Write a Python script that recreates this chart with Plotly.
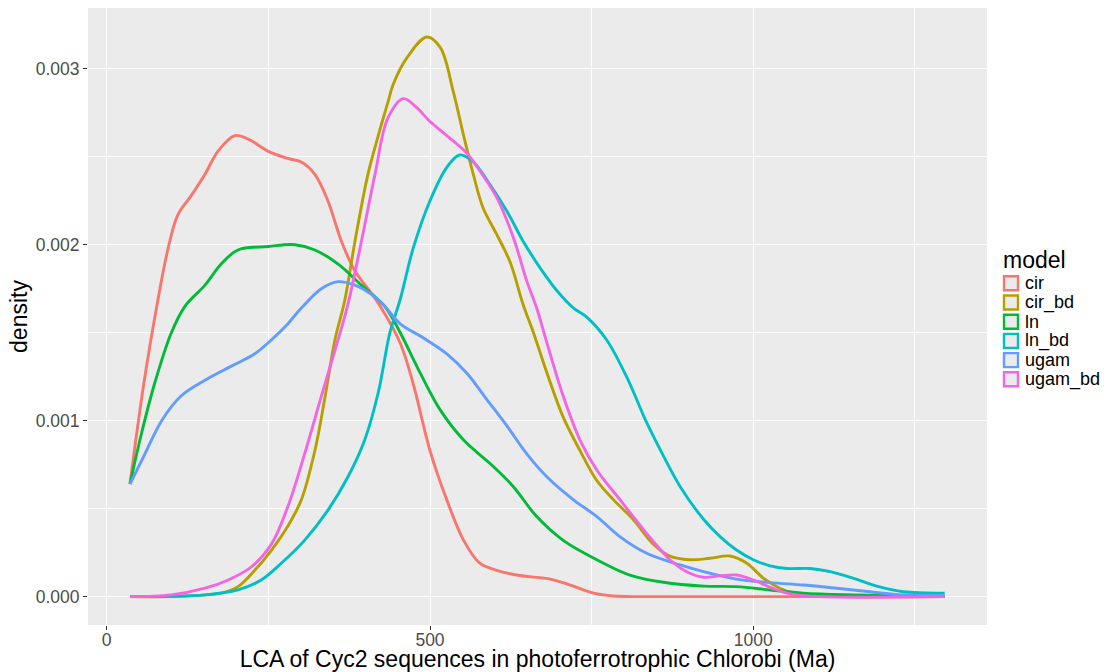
import plotly.graph_objects as go

# ---- data ----
models = ["cir", "cir_bd", "ln", "ln_bd", "ugam", "ugam_bd"]
colors = ["#F8766D", "#B79F00", "#00BA38", "#00BFC4", "#619CFF", "#F564E3"]

cir_x = [36, 57, 77, 95, 110, 131, 152, 172, 198, 219, 250, 280, 301, 322, 342, 363, 384, 404, 423,
         454, 474, 500, 526, 552, 577, 603, 639, 686, 717, 753, 783, 850, 1000, 1296]
cir_y = [0.00064, 0.0012, 0.00164, 0.00198, 0.00217, 0.00228, 0.0024, 0.00253, 0.00262, 0.0026,
         0.00253, 0.00249, 0.00247, 0.0024, 0.00225, 0.00202, 0.00185, 0.00175, 0.00165, 0.00144,
         0.00121, 0.00083, 0.00055, 0.00032, 0.00019, 0.00015, 0.00012, 0.0001, 0.000066, 0.00002,
         0.000004, 0.0, 0.0, 0.0]

cir_bd_x = [36, 126, 177, 203, 229, 255, 280, 301, 322, 337, 353, 368, 384, 404, 420, 435, 443, 464,
            495, 516, 536, 552, 567, 582, 603, 624, 644, 660, 681, 706, 732, 758, 784, 814, 845, 871,
            902, 933, 964, 990, 1016, 1041, 1067, 1103, 1296]
cir_bd_y = [0.0, 0.000004, 0.00002, 0.000057, 0.00015, 0.000265, 0.0004, 0.00055, 0.00083, 0.00112,
            0.00146, 0.00168, 0.00202, 0.0024, 0.00262, 0.00281, 0.00291, 0.00306, 0.00318, 0.00312,
            0.00287, 0.00262, 0.0024, 0.00221, 0.00206, 0.0019, 0.00166, 0.0015, 0.00127, 0.00102,
            0.00083, 0.00066, 0.00055, 0.00044, 0.0003, 0.00023, 0.00021, 0.000218, 0.000231, 0.00019,
            0.000104, 0.000048, 0.000015, 0.000003, 0.0]

ln_x = [36, 54, 74, 100, 121, 152, 177, 203, 250, 291, 322, 358, 394, 430, 454, 485, 516, 552, 598,
        629, 665, 706, 758, 809, 861, 923, 974, 1026, 1077, 1154, 1231, 1296]
ln_y = [0.00064, 0.00093, 0.00121, 0.0015, 0.00165, 0.00177, 0.00189, 0.00197, 0.00199, 0.002,
        0.00197, 0.00189, 0.00177, 0.00165, 0.0015, 0.00127, 0.00106, 0.00089, 0.00074, 0.000625,
        0.000455, 0.00032, 0.00021, 0.000123, 0.000082, 0.00006, 0.000057, 0.000038, 0.00002,
        0.00001, 0.000005, 0.000002]

ln_bd_x = [36, 152, 203, 239, 270, 306, 342, 373, 399, 420, 438, 454, 474, 500, 526, 546, 567, 593,
           619, 644, 670, 696, 722, 742, 773, 804, 835, 861, 887, 923, 949, 974, 1000, 1026, 1052,
           1088, 1119, 1155, 1191, 1232, 1296]
ln_bd_y = [0.0, 0.00001, 0.000038, 0.000095, 0.00019, 0.00032, 0.00049, 0.00068, 0.00089, 0.00116,
           0.0015, 0.00169, 0.00198, 0.00225, 0.00244, 0.00251, 0.00247, 0.00234, 0.00219, 0.00202,
           0.00187, 0.00174, 0.00164, 0.00159, 0.00146, 0.00125, 0.00099, 0.0008, 0.000625, 0.00044,
           0.00034, 0.000265, 0.00021, 0.000175, 0.00016, 0.00016, 0.000142, 0.000104, 0.00006,
           0.000028, 0.00002]

ugam_x = [36, 59, 85, 115, 152, 193, 229, 255, 280, 301, 332, 358, 384, 409, 430, 454, 490, 526,
          557, 588, 619, 650, 681, 722, 758, 794, 835, 887, 923, 974, 1026, 1077, 1129, 1180, 1232, 1296]
ugam_y = [0.00064, 0.00081, 0.001, 0.00114, 0.00123, 0.00131, 0.00138, 0.00146, 0.00155, 0.00164,
          0.00175, 0.00179, 0.00177, 0.00172, 0.00165, 0.00155, 0.00147, 0.00138, 0.00127, 0.00112,
          0.00097, 0.00081, 0.00068, 0.00055, 0.000455, 0.00034, 0.000247, 0.00018, 0.000142, 0.0001,
          0.00008, 0.000066, 0.000048, 0.000028, 0.00001, 0.000005]

ugam_bd_x = [36, 100, 152, 188, 224, 255, 280, 306, 332, 353, 373, 394, 415, 435, 459, 479, 500, 526,
             557, 577, 603, 629, 650, 665, 681, 706, 732, 758, 794, 835, 871, 897, 923, 948, 974,
             1000, 1026, 1052, 1087, 1296]
ugam_bd_y = [0.0, 0.00001, 0.000048, 0.000095, 0.00017, 0.0003, 0.00051, 0.00081, 0.00114, 0.0014,
             0.00166, 0.00202, 0.0024, 0.00272, 0.00283, 0.00278, 0.0027, 0.00262, 0.00252, 0.00242,
             0.00227, 0.00204, 0.00179, 0.00164, 0.00144, 0.00114, 0.00089, 0.00072, 0.00055,
             0.00036, 0.00021, 0.000142, 0.00011, 0.000118, 0.000123, 0.000095, 0.000053, 0.00002,
             0.000003, 0.0]

series_x = [cir_x, cir_bd_x, ln_x, ln_bd_x, ugam_x, ugam_bd_x]
series_y = [cir_y, cir_bd_y, ln_y, ln_bd_y, ugam_y, ugam_bd_y]

x_ticks = [0, 500, 1000]
y_ticks = [0.000, 0.001, 0.002, 0.003]

FONT = "Liberation Sans, Arial, Helvetica, sans-serif"

fig = go.Figure()
for name, col, xs, ys in zip(models, colors, series_x, series_y):
    fig.add_trace(go.Scatter(x=xs, y=ys, mode="lines", name=name,
                             line=dict(color=col, width=2.9, shape="spline", smoothing=1.0),
                             showlegend=False))

W, H = 1106, 672
ml, mr, mt, mb = 88, 119, 8, 47

fig.update_layout(
    width=W, height=H,
    margin=dict(l=ml, r=mr, t=mt, b=mb, autoexpand=False),
    paper_bgcolor="white", plot_bgcolor="#EBEBEB",
    font=dict(family=FONT, color="black"),
    showlegend=False,
    xaxis=dict(range=[-28.9, 1361.4], tickvals=x_ticks, ticktext=[str(v) for v in x_ticks],
               automargin=False,
               showgrid=True, gridcolor="white", gridwidth=1.2, zeroline=False,
               ticks="outside", ticklen=4, tickwidth=1.1, tickcolor="#333333",
               tickfont=dict(size=17.5, color="#4D4D4D"), ticklabelstandoff=-5,
               minor=dict(dtick=250, tick0=0, showgrid=True, gridcolor="white", gridwidth=0.6, ticks=""),
               title=dict(text="LCA of Cyc2 sequences in photoferrotrophic Chlorobi (Ma)",
                          font=dict(size=23, color="black"), standoff=7),
               showline=False),
    yaxis=dict(range=[-0.000161, 0.003345], tickvals=y_ticks, ticktext=["%.3f" % v for v in y_ticks],
               automargin=False,
               showgrid=True, gridcolor="white", gridwidth=1.2, zeroline=False,
               ticks="outside", ticklen=4, tickwidth=1.1, tickcolor="#333333",
               tickfont=dict(size=17.5, color="#4D4D4D"),
               minor=dict(dtick=0.0005, tick0=0, showgrid=True, gridcolor="white", gridwidth=0.6, ticks=""),
               title=dict(text="density", font=dict(size=23, color="black"), standoff=1),
               showline=False),
)

# ---- legend drawn like ggplot (title, outlined keys, labels) ----
def px_x(p):
    return (p - ml) / (W - ml - mr)

def px_y(p):
    return 1 - (p - mt) / (H - mt - mb)

fig.add_annotation(text="model", xref="paper", yref="paper", x=px_x(1001), y=px_y(260),
                   xanchor="left", yanchor="middle", showarrow=False,
                   font=dict(size=23, color="black", family=FONT))
for i, (name, col) in enumerate(zip(models, colors)):
    cy = 283.3 + i * 19.2
    fig.add_shape(type="rect", xref="paper", yref="paper",
                  x0=px_x(1004), x1=px_x(1018), y0=px_y(cy - 7), y1=px_y(cy + 7),
                  fillcolor="#EBEBEB", line=dict(color=col, width=2.4))
    fig.add_annotation(text=name, xref="paper", yref="paper", x=px_x(1023), y=px_y(cy),
                       xanchor="left", yanchor="middle", showarrow=False,
                       font=dict(size=18, color="black", family=FONT))

fig.write_html("out.html", config={"displayModeBar": False},
               post_script="document.body.style.margin='0px';")
